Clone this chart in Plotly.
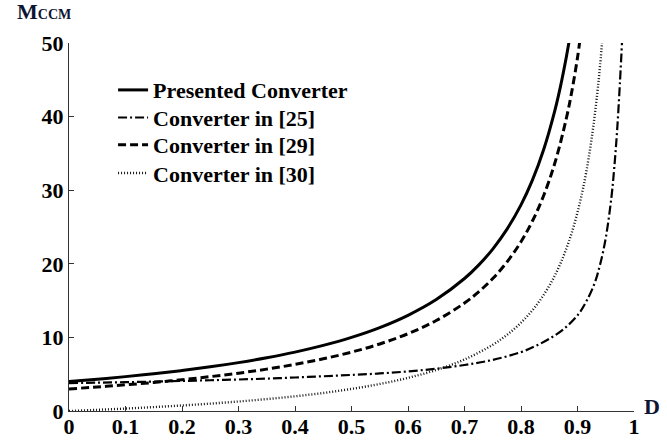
import plotly.graph_objects as go

# Duty cycle samples and voltage gain M_CCM for each converter
d_presented = [0, 0.05, 0.1, 0.15, 0.2, 0.25, 0.3, 0.35, 0.4, 0.45, 0.5, 0.55, 0.6,
               0.65, 0.7, 0.725, 0.75, 0.775, 0.8, 0.82, 0.84, 0.86, 0.87, 0.88, 0.885]
m_presented = [4.00, 4.32, 4.67, 5.06, 5.50, 6.00, 6.57, 7.23, 8.00, 8.91, 10.00, 11.33, 13.00,
               15.14, 18.00, 19.82, 22.00, 24.67, 28.00, 31.33, 35.50, 40.86, 44.15, 48.00, 50.17]

d_ref25 = [0, 0.05, 0.1, 0.15, 0.2, 0.25, 0.3, 0.35, 0.4, 0.45, 0.5, 0.55, 0.6, 0.65,
           0.7, 0.75, 0.8, 0.825, 0.85, 0.875, 0.9, 0.915, 0.93, 0.94, 0.95, 0.96,
           0.965, 0.97, 0.975, 0.98]
m_ref25 = [3.80, 3.85, 3.92, 4.00, 4.08, 4.18, 4.28, 4.40, 4.55, 4.72, 4.90, 5.10, 5.38, 5.75,
           6.25, 6.95, 8.00, 8.80, 9.80, 11.10, 13.00, 14.80, 17.30, 19.90, 23.50, 29.00,
           33.00, 38.00, 44.50, 52.00]

d_ref29 = [0, 0.05, 0.1, 0.15, 0.2, 0.25, 0.3, 0.35, 0.4, 0.45, 0.5, 0.55, 0.6, 0.65,
           0.7, 0.725, 0.75, 0.775, 0.8, 0.82, 0.84, 0.86, 0.88, 0.89, 0.9, 0.905]
m_ref29 = [3.00, 3.26, 3.56, 3.88, 4.25, 4.67, 5.14, 5.69, 6.33, 7.09, 8.00, 9.11, 10.50, 12.29,
           14.67, 16.18, 18.00, 20.22, 23.00, 25.78, 29.25, 33.71, 39.67, 43.45, 48.00, 50.84]

d_ref30 = [0, 0.05, 0.1, 0.15, 0.2, 0.25, 0.3, 0.35, 0.4, 0.45, 0.5, 0.55, 0.6, 0.65,
           0.7, 0.75, 0.775, 0.8, 0.825, 0.85, 0.87, 0.89, 0.905, 0.915, 0.925, 0.935,
           0.94, 0.945]
m_ref30 = [0.00, 0.16, 0.33, 0.53, 0.75, 1.00, 1.29, 1.62, 2.00, 2.45, 3.00, 3.67, 4.50, 5.57,
           7.00, 9.00, 10.33, 12.00, 14.14, 17.00, 20.08, 24.27, 28.58, 32.29, 37.00, 43.15,
           47.00, 51.55]

x_ticks = [0, 0.1, 0.2, 0.3, 0.4, 0.5, 0.6, 0.7, 0.8, 0.9, 1]
x_tick_text = ["0", "0.1", "0.2", "0.3", "0.4", "0.5", "0.6", "0.7", "0.8", "0.9", "1"]
y_ticks = [0, 10, 20, 30, 40, 50]

FONT = "Liberation Serif"
BOLD = dict(family=FONT, size=22, color="black", weight="bold")

fig = go.Figure()
fig.add_trace(go.Scatter(x=d_presented, y=m_presented, mode="lines", name="Presented Converter",
                         legend="legend",
                         line=dict(color="black", width=3, shape="spline")))
fig.add_trace(go.Scatter(x=d_ref25, y=m_ref25, mode="lines", name="Converter in [25]",
                         legend="legend2",
                         line=dict(color="black", width=2.2, dash="9px,3px,2px,3px", shape="spline")))
fig.add_trace(go.Scatter(x=d_ref29, y=m_ref29, mode="lines", name="Converter in [29]",
                         legend="legend3",
                         line=dict(color="black", width=3, dash="8px,4px", shape="spline")))
fig.add_trace(go.Scatter(x=d_ref30, y=m_ref30, mode="lines", name="Converter in [30]",
                         legend="legend4",
                         line=dict(color="#111", width=2.4, dash="1px,2px", shape="spline")))


def legend_box(yc):
    return dict(x=0.078, y=yc, xanchor="left", yanchor="middle",
                bgcolor="rgba(0,0,0,0)", borderwidth=0, font=BOLD)


fig.update_layout(
    width=667, height=441,
    margin=dict(l=69, r=33, t=43, b=30),
    paper_bgcolor="white", plot_bgcolor="white",
    font=dict(family=FONT, size=22, color="black"),
    showlegend=True,
    legend=legend_box(0.872),
    legend2=legend_box(0.797),
    legend3=legend_box(0.723),
    legend4=legend_box(0.646),
    xaxis=dict(range=[0, 1], tickvals=x_ticks, ticktext=x_tick_text, automargin=False,
               showgrid=False, zeroline=False, showline=True, linecolor="#333", linewidth=1,
               ticks="inside", ticklen=5, tickcolor="#333", tickfont=BOLD,
               ticklabelstandoff=-4),
    yaxis=dict(range=[0, 50], tickvals=y_ticks, automargin=False,
               showgrid=False, zeroline=False, showline=True, linecolor="#333", linewidth=1,
               ticks="inside", ticklen=5, tickcolor="#333", tickfont=BOLD),
    annotations=[
        dict(text="M<span style='font-size:14px'>CCM</span>", xref="paper", yref="paper",
             x=-0.096, y=1.045, xanchor="left", yanchor="bottom", showarrow=False,
             font=dict(family=FONT, size=22, color="#0d1533", weight="bold")),
        dict(text="D", xref="paper", yref="paper", x=1.014, y=0.011,
             xanchor="left", yanchor="middle", showarrow=False,
             font=dict(family=FONT, size=22, color="#0d1533", weight="bold")),
    ],
)

fig.write_html("out.html")
